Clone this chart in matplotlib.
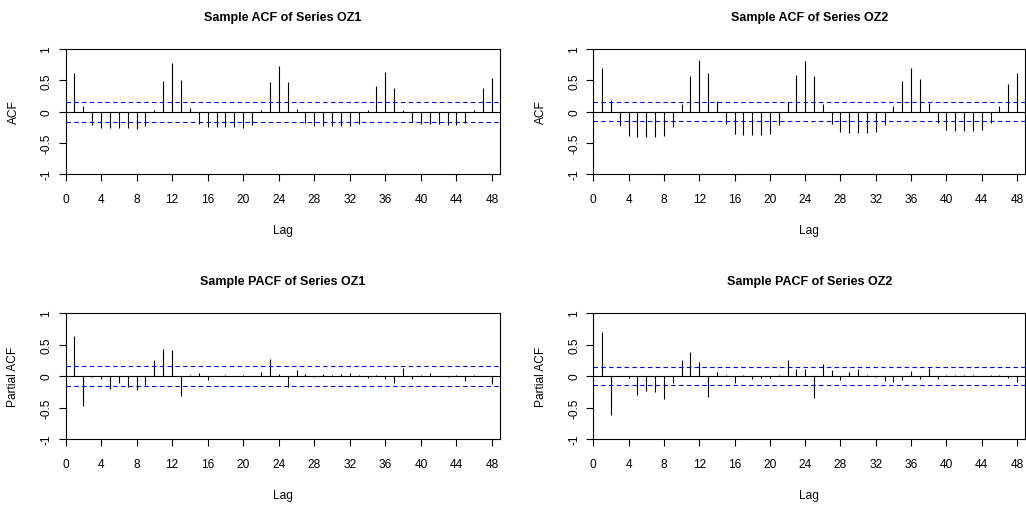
import matplotlib
matplotlib.use("Agg")
import matplotlib.pyplot as plt

plt.rcParams['font.family'] = ['Liberation Sans', 'DejaVu Sans']

# --- data (lags 1..48) ---
lags = list(range(1, 49))

acf_oz1 = [0.615, 0.096, -0.22, -0.26, -0.26, -0.26, -0.27, -0.28, -0.235, 0.03,
           0.49, 0.78, 0.51, 0.064, -0.20, -0.25, -0.245, -0.245, -0.245, -0.26,
           -0.22, 0.03, 0.476, 0.727, 0.465, 0.048, -0.18, -0.225, -0.225, -0.225,
           -0.225, -0.235, -0.20, 0.02, 0.41, 0.625, 0.374, 0.02, -0.166, -0.20,
           -0.20, -0.20, -0.21, -0.214, -0.18, 0.02, 0.374, 0.535]

acf_oz2 = [0.693, 0.18, -0.233, -0.397, -0.407, -0.407, -0.407, -0.397, -0.249, 0.127,
           0.571, 0.82, 0.614, 0.169, -0.206, -0.354, -0.381, -0.381, -0.381, -0.365,
           -0.222, 0.153, 0.587, 0.81, 0.561, 0.127, -0.206, -0.333, -0.344, -0.344,
           -0.344, -0.333, -0.222, 0.085, 0.487, 0.693, 0.513, 0.138, -0.18, -0.29,
           -0.307, -0.307, -0.307, -0.29, -0.19, 0.085, 0.44, 0.614]

pacf_oz1 = [0.63, -0.476, -0.01, -0.05, -0.20, -0.11, -0.17, -0.225, -0.14, 0.257,
            0.433, 0.417, -0.315, 0.02, 0.053, -0.06, -0.005, 0.02, -0.005, 0.015,
            0.003, 0.064, 0.267, 0.037, -0.18, 0.096, 0.027, -0.016, 0.027, 0.016,
            0.027, 0.043, 0.02, -0.03, 0.02, -0.053, -0.107, 0.128, -0.053, 0.02,
            0.043, 0.003, -0.02, 0.02, -0.075, 0.015, 0.003, -0.134]

pacf_oz2 = [0.70, -0.617, 0.005, -0.03, -0.30, -0.234, -0.255, -0.367, -0.106, 0.25,
            0.388, 0.218, -0.335, 0.064, 0.021, -0.117, 0.02, -0.048, -0.032, -0.032,
            0.016, 0.25, 0.106, 0.117, -0.346, 0.186, 0.10, -0.058, 0.064, 0.117,
            0.02, -0.016, -0.08, -0.096, -0.058, 0.085, -0.048, 0.128, -0.048, 0.02,
            0.01, 0.01, 0.01, 0.005, 0.01, 0.01, -0.03, -0.10]

ci_oz1 = 0.16
ci_oz2 = 0.15

panels = [
    ("Sample ACF of Series OZ1", "ACF", acf_oz1, ci_oz1),
    ("Sample ACF of Series OZ2", "ACF", acf_oz2, ci_oz2),
    ("Sample PACF of Series OZ1", "Partial ACF", pacf_oz1, ci_oz1),
    ("Sample PACF of Series OZ2", "Partial ACF", pacf_oz2, ci_oz2),
]

W, H = 1026, 506
fig = plt.figure(figsize=(W / 100, H / 100), dpi=100)

# axes boxes in pixels: (left, top, right, bottom)
boxes = [(65.5, 50, 500, 175), (593.3, 50, 1025, 175),
         (65.5, 314, 500, 440), (593.3, 314, 1025, 440)]

for (title, ylab, vals, ci), (l, t, r, b) in zip(panels, boxes):
    ax = fig.add_axes([l / W, 1 - b / H, (r - l) / W, (b - t) / H])
    ax.vlines(lags, 0, vals, color='black', linewidth=0.8)
    ax.axhline(0, color='black', linewidth=0.8)
    for y in (ci, -ci):
        ax.axhline(y, color='#0000ff', linewidth=0.8, linestyle=(0, (4, 3)))
    ax.set_xlim(0, 48.9)
    ax.set_ylim(-1, 1)
    ax.set_xticks(range(0, 49, 4))
    ax.set_yticks([-1, -0.5, 0, 0.5, 1])
    ax.set_yticklabels(['-1', '-0.5', '0', '0.5', '1'], rotation=90, va='center')
    ax.tick_params(axis='x', length=5, width=0.8, pad=8.5, labelsize=8.6)
    ax.tick_params(axis='y', length=5, width=0.8, pad=4.5, labelsize=8.6)
    for s in ax.spines.values():
        s.set_linewidth(0.8)
    ax.set_xlabel("Lag", fontsize=8.6, labelpad=14)
    ax.set_ylabel(ylab, fontsize=8.6, labelpad=15)
    ax.set_title(title, fontsize=9, fontweight='bold', pad=21)

fig.savefig("out.png", dpi=100)
